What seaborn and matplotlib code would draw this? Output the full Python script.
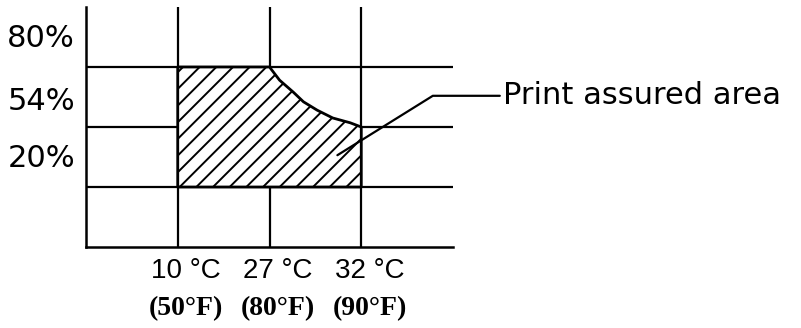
"""
Print assured area chart (temperature vs humidity)
"""
import matplotlib
matplotlib.use("Agg")
import matplotlib.pyplot as plt
import seaborn as sns
import pandas as pd

# axis categories
temp_positions = [1, 2, 3]
celsius_labels = ["10 °C", "27 °C", "32 °C"]
fahrenheit_labels = ["(50°F)", "(80°F)", "(90°F)"]
humidity_positions = [3.47, 2.43, 1.47]
humidity_labels = ["80%", "54%", "20%"]

# outline of the print assured area
area_x = [1.0, 3.0, 3.0, 2.88, 2.69, 2.52, 2.37, 2.26, 2.11, 2.0, 1.0, 1.0]
area_y = [1.0, 1.0, 2.0, 2.07, 2.15, 2.28, 2.42, 2.58, 2.78, 3.0, 3.0, 1.0]

# leader line to the caption
leader_x = [4.51, 3.78, 2.74]
leader_y = [2.52, 2.52, 1.53]
caption = "Print assured area"

sns.set_theme(style="white")
plt.rcParams["font.family"] = ["DejaVu Sans"]
plt.rcParams["text.color"] = "black"
plt.rcParams["hatch.linewidth"] = 1.4

fig = plt.figure(figsize=(8.01, 3.28), dpi=100)
ax = fig.add_axes([86 / 801, 81 / 328, 367 / 801, 240 / 328])

ax.set_xlim(0, 4)
ax.set_ylim(0, 4)

# grid of the chart
ax.set_xticks([1, 2, 3])
ax.set_yticks([1, 2, 3])
ax.set_xticklabels([])
ax.set_yticklabels([])
ax.tick_params(length=0)
ax.grid(True, color="black", linewidth=1.6)
for side in ["top", "right"]:
    ax.spines[side].set_visible(False)
for side in ["left", "bottom"]:
    ax.spines[side].set_color("black")
    ax.spines[side].set_linewidth(1.8)

# hatched area
ax.fill(area_x, area_y, facecolor="white", edgecolor="black",
        hatch="//", linewidth=0, zorder=3)
outline = pd.DataFrame({"x": area_x, "y": area_y})
sns.lineplot(data=outline, x="x", y="y", sort=False, estimator=None,
             color="black", linewidth=2, ax=ax, zorder=4)
ax.set_xlabel("")
ax.set_ylabel("")

# leader line + caption
ax.plot(leader_x, leader_y, color="black", linewidth=1.6, clip_on=False, zorder=5)
ax.text(leader_x[0] + 0.03, leader_y[0], caption, fontsize=22,
        ha="left", va="center", clip_on=False)

# y labels
for pos, lab in zip(humidity_positions, humidity_labels):
    ax.text(-0.12, pos, lab, fontsize=22, ha="right", va="center")

# x labels, two rows
for pos, c, f in zip(temp_positions, celsius_labels, fahrenheit_labels):
    ax.text(pos + 0.09, -0.40, c, fontsize=20, ha="center", va="center",
            family=["Liberation Sans", "DejaVu Sans"])
    ax.text(pos + 0.09, -1.03, f, fontsize=20, ha="center", va="center",
            family=["Liberation Serif", "DejaVu Serif"], fontweight="bold")

fig.savefig("out.png", dpi=100)
